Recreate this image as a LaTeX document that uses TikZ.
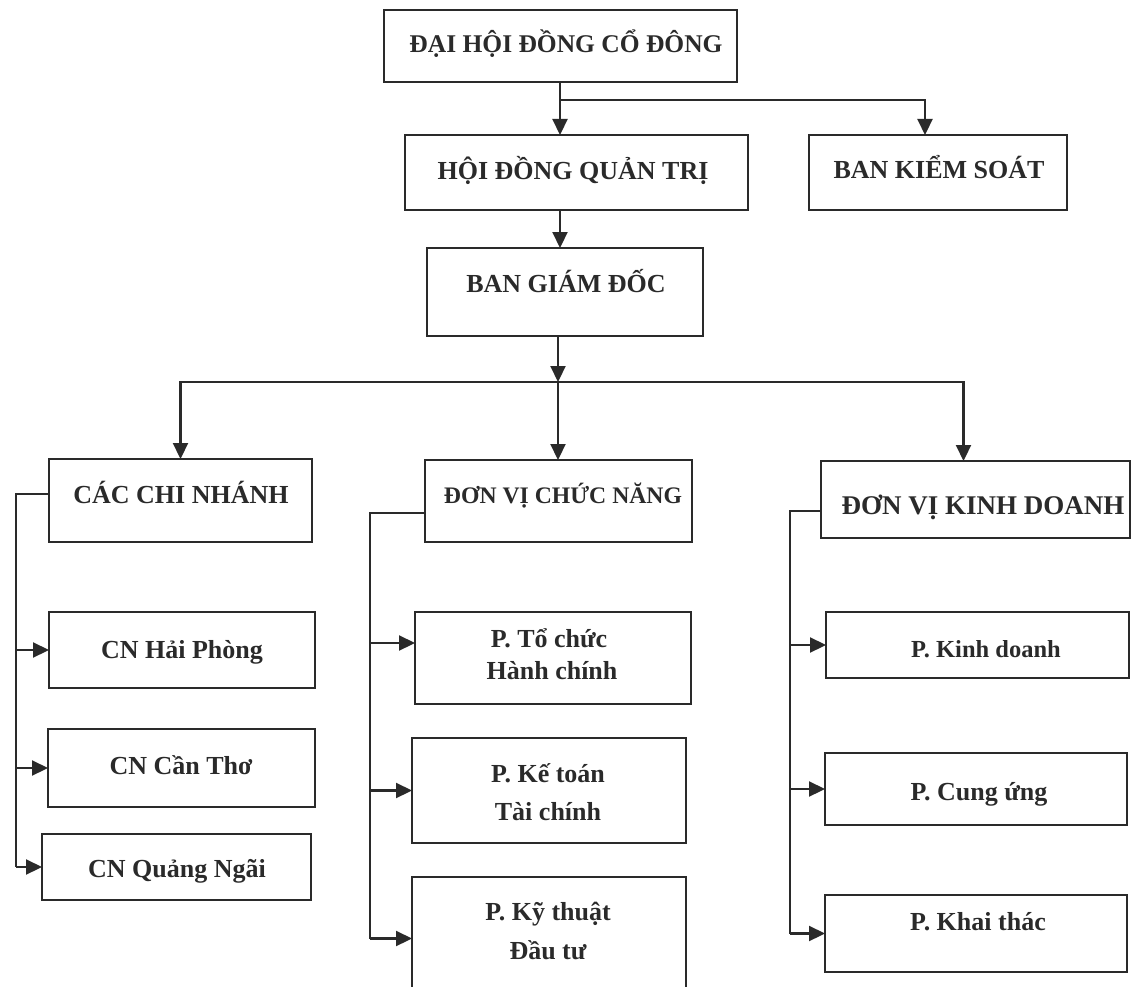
\documentclass[tikz,border=0pt]{standalone}
\usepackage{fontspec}
\setmainfont{Liberation Serif}
\usetikzlibrary{arrows.meta}
\definecolor{ink}{HTML}{2A2A2A}
\newcommand{\bx}[5]{%
  \node[boxstyle, minimum width={(#4-#2)*1pt}, minimum height={(#5-#3)*1pt}] (#1) at ({(#2+#4)/2},{(#3+#5)/2}) {};}
\begin{document}
\begin{tikzpicture}[x=1pt,y=-1pt,
  boxstyle/.style={draw=ink, line width=2.2pt, inner sep=0pt, outer sep=0pt, rectangle},
  txt/.style={anchor=base, inner sep=0pt, text=ink, font=\fontsize{26}{32}\selectfont\bfseries},
  txtsize/.style={font=\fontsize{#1}{32}\selectfont\bfseries},
  conn/.style={draw=ink, line width=2.2pt},
  arr/.style={conn, -{Triangle[length=16pt,width=15pt]}}]
\useasboundingbox (0,0) rectangle (1132,987);
% boxes
\bx{dh}{384}{10}{737}{82}
\bx{hq}{405}{135}{748}{210}
\bx{bks}{809}{135}{1067}{210}
\bx{bgd}{427}{248}{703}{336}
\bx{cn}{49}{459}{312}{542}
\bx{dvcn}{425}{460}{692}{542}
\bx{dvkd}{821}{461}{1130}{538}
\bx{hp}{49}{612}{315}{688}
\bx{ct}{48}{729}{315}{807}
\bx{qn}{42}{834}{311}{900}
\bx{tc}{415}{612}{691}{704}
\bx{kt}{412}{738}{686}{843}
\bx{kth}{412}{877}{686}{1000}
\bx{kd}{826}{612}{1129}{678}
\bx{cu}{825}{753}{1127}{825}
\bx{khai}{825}{895}{1127}{972}
% texts
\node[txt, txtsize=25.5] (dh-t) at (566,53) {ĐẠI HỘI ĐỒNG CỔ ĐÔNG};
\node[txt] (hq-t) at (573,180) {HỘI ĐỒNG QUẢN TRỊ};
\node[txt] (bks-t) at (939,179) {BAN KIỂM SOÁT};
\node[txt] (bgd-t) at (566,292) {BAN GIÁM ĐỐC};
\node[txt] (cn-t) at (181,503) {CÁC CHI NHÁNH};
\node[txt, txtsize=23.7] (dvcn-t) at (563,503) {ĐƠN VỊ CHỨC NĂNG};
\node[txt, txtsize=27] (dvkd-t) at (983,514) {ĐƠN VỊ KINH DOANH};
\node[txt] (hp-t) at (182,658) {CN Hải Phòng};
\node[txt] (ct-t) at (181,774) {CN Cần Thơ};
\node[txt] (qn-t) at (177,877) {CN Quảng Ngãi};
\node[txt] (tc-t1) at (549,647) {P. Tổ chức};
\node[txt] (tc-t2) at (552,679) {Hành chính};
\node[txt] (kt-t1) at (548,782) {P. Kế toán};
\node[txt] (kt-t2) at (548,820) {Tài chính};
\node[txt] (kth-t1) at (548,920) {P. Kỹ thuật};
\node[txt] (kth-t2) at (548,959) {Đầu tư};
\node[txt, txtsize=24.5] (kd-t) at (986,657) {P. Kinh doanh};
\node[txt] (cu-t) at (979,800) {P. Cung ứng};
\node[txt] (khai-t) at (978,930) {P. Khai thác};
% top connectors
\coordinate (j1) at (560,100);
\draw[arr] (dh.south -| j1) -- (j1 |- hq.north);
\draw[arr] (j1) -| ([xshift=-13pt]bks.north);
\draw[arr] (hq.south -| j1) -- (j1 |- bgd.north);
% bus
\coordinate (bus) at (558,382);
\draw[arr] (bgd.south -| bus) -- (bus);
\draw[arr] (bus) -| (cn.north);
\draw[arr] (bus) -- (bus |- dvcn.north);
\draw[arr] (bus) -| ([xshift=-12pt]dvkd.north);
% branches
\coordinate (s1) at (16,494);
\draw[conn] (cn.west |- s1) -- (s1) -- (s1 |- qn.west);
\draw[arr] (s1 |- hp.west) -- (hp.west);
\draw[arr] (s1 |- ct.west) -- (ct.west);
\draw[arr] (s1 |- qn.west) -- (qn.west);
\coordinate (s2) at (370,513);
\draw[conn] (dvcn.west |- s2) -- (s2) -- (s2 |- kth.west);
\draw[arr] (s2 |- tc.west) ++(0,-15) -- ([yshift=15pt]tc.west);
\draw[arr] (s2 |- kt.west) -- (kt.west);
\draw[arr] (s2 |- kth.west) -- (kth.west);
\coordinate (s3) at (790,511);
\draw[conn] (dvkd.west |- s3) -- (s3) -- (s3 |- khai.west);
\draw[arr] (s3 |- kd.west) -- (kd.west);
\draw[arr] (s3 |- cu.west) -- (cu.west);
\draw[arr] (s3 |- khai.west) -- (khai.west);
\end{tikzpicture}
\end{document}
